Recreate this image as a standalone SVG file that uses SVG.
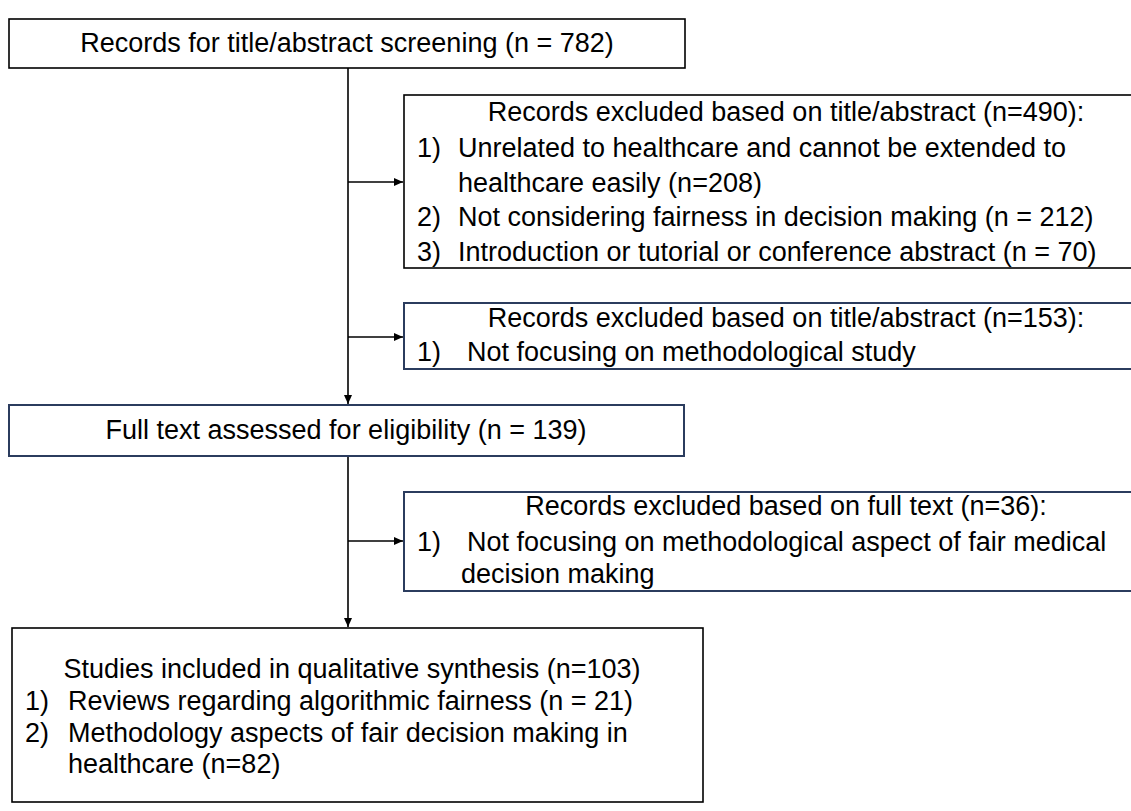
<svg xmlns="http://www.w3.org/2000/svg" width="1131" height="811" viewBox="0 0 1131 811">
<defs>
<marker id="ah" markerWidth="10" markerHeight="10" refX="9" refY="5" orient="auto" markerUnits="userSpaceOnUse">
<path d="M0,1 L9,5 L0,9 Z" fill="#000"/>
</marker>
<style>
text{font-family:"Liberation Sans",Arial,sans-serif;font-size:27px;fill:#000}
.c{text-anchor:middle}
.bk{fill:#fff;stroke:#000;stroke-width:1.6}
.nv{fill:#fff;stroke:#2b3c5e;stroke-width:2}
.ln{stroke:#000;stroke-width:1.6;fill:none}
</style>
</defs>
<rect width="1131" height="811" fill="#fff"/>
<g id="connectors">
<line class="ln" x1="348" y1="68" x2="348" y2="404" marker-end="url(#ah)"/>
<line class="ln" x1="348" y1="456" x2="348" y2="627" marker-end="url(#ah)"/>
<line class="ln" x1="348" y1="182" x2="403" y2="182" marker-end="url(#ah)"/>
<line class="ln" x1="348" y1="337" x2="403" y2="337" marker-end="url(#ah)"/>
<line class="ln" x1="348" y1="541" x2="403" y2="541" marker-end="url(#ah)"/>
</g>
<g id="n1">
<rect class="bk" x="9" y="19" width="676" height="49"/>
<text class="c" x="347" y="52">Records for title/abstract screening (n = 782)</text>
</g>
<g id="n2">
<rect class="bk" x="404" y="95" width="770" height="173"/>
<text class="c" x="786" y="121">Records excluded based on title/abstract (n=490):</text>
<text x="417" y="157">1)</text><text x="458" y="157">Unrelated to healthcare and cannot be extended to</text>
<text x="458" y="192">healthcare easily (n=208)</text>
<text x="417" y="226">2)</text><text x="458" y="226">Not considering fairness in decision making (n = 212)</text>
<text x="417" y="261">3)</text><text x="458" y="261">Introduction or tutorial or conference abstract (n = 70)</text>
</g>
<g id="n3">
<rect class="nv" x="404" y="303" width="770" height="66"/>
<text class="c" x="786" y="327">Records excluded based on title/abstract (n=153):</text>
<text x="417" y="361">1)</text><text x="467" y="361">Not focusing on methodological study</text>
</g>
<g id="n4">
<rect class="nv" x="9" y="405" width="675" height="51"/>
<text class="c" x="346" y="439">Full text assessed for eligibility (n = 139)</text>
</g>
<g id="n5">
<rect class="nv" x="404" y="492" width="770" height="99"/>
<text class="c" x="786" y="515">Records excluded based on full text (n=36):</text>
<text x="417" y="551">1)</text><text x="467" y="551">Not focusing on methodological aspect of fair medical</text>
<text x="461" y="583">decision making</text>
</g>
<g id="n6">
<rect class="bk" x="12" y="628" width="691" height="174"/>
<text class="c" x="352" y="678">Studies included in qualitative synthesis (n=103)</text>
<text x="25" y="710">1)</text><text x="68" y="710">Reviews regarding algorithmic fairness (n = 21)</text>
<text x="25" y="742">2)</text><text x="68" y="742">Methodology aspects of fair decision making in</text>
<text x="68" y="773">healthcare (n=82)</text>
</g>
</svg>
